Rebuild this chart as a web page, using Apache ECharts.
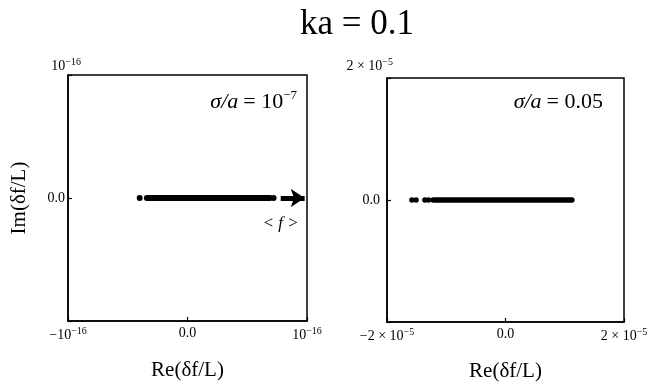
<!DOCTYPE html>
<html><head><meta charset="utf-8">
<script src="https://cdn.jsdelivr.net/npm/echarts@6/dist/echarts.min.js"></script>
<style>html,body{margin:0;padding:0;background:#fff}#c{width:656px;height:387px}</style>
</head><body><div id="c"></div>
<script>
// ---- data (Re(δf/L), Im(δf/L)) ----
const titleText = 'ka = 0.1';
const leftLabel = ['σ/a', '10', '−7'];
const rightLabel = ['σ/a', '0.05'];
// left panel, sigma/a = 1e-7
const leftRange = [-1e-16, 1e-16];
const leftDotsRe = [-0.40e-16, 0.72e-16];
const leftDotsIm = [0, 0];
const leftBandRe = [-0.34e-16, 0.69e-16];
const leftBandIm = [0, 0];
const meanArrowRe = [0.78e-16, 0.98e-16];
const meanArrowIm = [0, 0];
const meanLabel = '< f >';
// right panel, sigma/a = 0.05
const rightRange = [-2e-5, 2e-5];
const rightDotsRe = [-1.58e-5, -1.51e-5, -1.36e-5, -1.30e-5, 1.12e-5];
const rightDotsIm = [0, 0, 0, 0, 0];
const rightBandRe = [-1.22e-5, 1.09e-5];
const rightBandIm = [0, 0];
// tick labels
const leftTicks = { neg: ['−10', '−16'], zero: '0.0', pos: ['10', '−16'] };
const rightTicks = { neg: ['−2 × 10', '−5'], zero: '0.0', pos: ['2 × 10', '−5'] };
const xName = 'Re(δf/L)';
const yName = 'Im(δf/L)';

const FONT = '"Liberation Serif", "DejaVu Serif", serif';
const INK = '#000';
const zip = (a, b) => a.map((v, i) => [v, b[i]]);

function richBase(extra) {
  return Object.assign({
    b: { fontFamily: FONT, fontSize: 14, color: INK, lineHeight: 16, verticalAlign: 'bottom' },
    s: { fontFamily: FONT, fontSize: 10, color: INK, lineHeight: 16, verticalAlign: 'top' },
    z: { fontFamily: FONT, fontSize: 14, color: INK }
  }, extra || {});
}
function xFmt(t) {
  return function (v) {
    if (Math.abs(v) < 1e-30) return '{z|' + t.zero + '}';
    const p = v < 0 ? t.neg : t.pos;
    return '{b|' + p[0] + '}{s|' + p[1] + '}';
  };
}
function yFmt(t) {
  return function (v) {
    if (Math.abs(v) < 1e-30) return '{zy|' + t.zero + '}';
    if (v > 0) return '{b|' + t.pos[0] + '}{s|' + t.pos[1] + '}\n{gap| }';
    return '';
  };
}
function yRich(padRight, gap) {
  return richBase({
    zy: { fontFamily: FONT, fontSize: 14, color: INK, padding: [0, padRight, 0, 0] },
    gap: { fontSize: 2, lineHeight: gap }
  });
}

function xAxis(idx, range, ticks, name) {
  return {
    gridIndex: idx, type: 'value', min: range[0], max: range[1], interval: range[1],
    axisLine: { show: true, onZero: false, lineStyle: { color: INK, width: 1.5 } },
    axisTick: { show: true, inside: true, length: 4, lineStyle: { color: INK, width: 1.2 } },
    splitLine: { show: false },
    axisLabel: { margin: 5, formatter: xFmt(ticks), rich: richBase() },
    name: name, nameLocation: 'middle', nameGap: 39,
    nameTextStyle: { fontFamily: FONT, fontSize: 21, color: INK }
  };
}
function yAxis(idx, range, ticks, name, margin, padRight, gap) {
  return {
    gridIndex: idx, type: 'value', min: range[0], max: range[1], interval: range[1],
    axisLine: { show: true, onZero: false, lineStyle: { color: INK, width: 1.5 } },
    axisTick: { show: true, inside: true, length: 4, lineStyle: { color: INK, width: 1.2 } },
    splitLine: { show: false },
    axisLabel: { margin: margin, formatter: yFmt(ticks), rich: yRich(padRight, gap) },
    name: name, nameLocation: 'middle', nameGap: 38,
    nameTextStyle: { fontFamily: FONT, fontSize: 21, color: INK }
  };
}

const chart = echarts.init(document.getElementById('c'), null, { renderer: 'canvas' });
chart.setOption({
  backgroundColor: '#fff',
  animation: false,
  title: [
    { text: titleText, left: 357, top: 7, textAlign: 'center', padding: 0,
      textStyle: { fontFamily: FONT, fontSize: 35, fontWeight: 'normal', color: INK } },
    { text: '{i|' + leftLabel[0] + '} {b|= ' + leftLabel[1] + '}{s|' + leftLabel[2] + '}', right: 359, top: 89, padding: 0,
      textStyle: { fontWeight: 'normal', rich: {
        i: { fontFamily: FONT, fontStyle: 'italic', fontWeight: 'normal', fontSize: 22, color: INK, lineHeight: 24, verticalAlign: 'bottom' },
        b: { fontFamily: FONT, fontWeight: 'normal', fontSize: 22, color: INK, lineHeight: 24, verticalAlign: 'bottom' },
        s: { fontFamily: FONT, fontWeight: 'normal', fontSize: 13, color: INK, lineHeight: 24, verticalAlign: 'top' } } } },
    { text: '{i|' + rightLabel[0] + '} {b|= ' + rightLabel[1] + '}', right: 53, top: 91, padding: 0,
      textStyle: { fontWeight: 'normal', rich: {
        i: { fontFamily: FONT, fontStyle: 'italic', fontWeight: 'normal', fontSize: 22, color: INK },
        b: { fontFamily: FONT, fontWeight: 'normal', fontSize: 22, color: INK } } } }
  ],
  grid: [
    { left: 68, right: 349, top: 75, bottom: 66, show: true, borderColor: INK, borderWidth: 1.5, backgroundColor: '#fff' },
    { left: 387, right: 32, top: 78, bottom: 64, show: true, borderColor: INK, borderWidth: 1.5, backgroundColor: '#fff' }
  ],
  xAxis: [ xAxis(0, leftRange, leftTicks, xName), xAxis(1, rightRange, rightTicks, xName) ],
  yAxis: [ yAxis(0, leftRange, leftTicks, yName, -13, 16, 20), yAxis(1, rightRange, rightTicks, '', -6, 13, 26) ],
  series: [
    { type: 'line', xAxisIndex: 0, yAxisIndex: 0, data: zip(leftBandRe, leftBandIm), symbol: 'none',
      lineStyle: { color: INK, width: 6, cap: 'round', opacity: 1 } },
    { type: 'scatter', xAxisIndex: 0, yAxisIndex: 0, data: zip(leftDotsRe, leftDotsIm), symbol: 'circle', symbolSize: 6,
      itemStyle: { color: INK, opacity: 1 } },
    { type: 'lines', coordinateSystem: 'cartesian2d', xAxisIndex: 0, yAxisIndex: 0,
      data: [{ coords: zip(meanArrowRe, meanArrowIm) }],
      symbol: ['none', 'arrow'], symbolSize: 14,
      lineStyle: { color: INK, width: 5, opacity: 1 },
      label: { show: true, formatter: meanLabel, position: 'insideMiddleBottom', distance: 17, padding: [0, 24, 0, 0],
        fontFamily: FONT, fontStyle: 'italic', fontSize: 17, color: INK } },
    { type: 'line', xAxisIndex: 1, yAxisIndex: 1, data: zip(rightBandRe, rightBandIm), symbol: 'none',
      lineStyle: { color: INK, width: 5.5, cap: 'round', opacity: 1 } },
    { type: 'scatter', xAxisIndex: 1, yAxisIndex: 1, data: zip(rightDotsRe, rightDotsIm), symbol: 'circle', symbolSize: 5.5,
      itemStyle: { color: INK, opacity: 1 } }
  ]
});
</script></body></html>
